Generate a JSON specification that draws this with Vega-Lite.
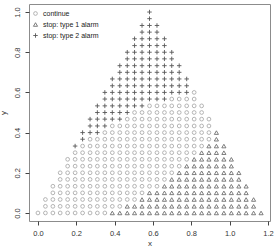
{
  "$schema": "https://vega.github.io/schema/vega-lite/v6.json",
  "width": 241,
  "height": 217,
  "autosize": {"type": "none"},
  "padding": {"left": 29, "top": 4, "right": 4, "bottom": 29},
  "config": {
    "font": "Liberation Sans",
    "view": {"stroke": "#8c8c8c", "strokeWidth": 1},
    "axis": {"grid": false, "domain": false, "tickColor": "#444", "tickSize": 4, "labelFontSize": 7.5, "labelColor": "#333", "titleFontSize": 8, "titleFontWeight": "normal", "titleColor": "#333"},
    "legend": {"symbolStrokeWidth": 0.9, "symbolFillColor": "transparent"}
  },
  "data": {"values": [
    {"x":0,"y":0,"s":"c"},{"x":0.039,"y":0,"s":"c"},{"x":0.078,"y":0,"s":"c"},{"x":0.116,"y":0,"s":"c"},{"x":0.155,"y":0,"s":"c"},{"x":0.194,"y":0,"s":"c"},{"x":0.233,"y":0,"s":"c"},{"x":0.272,"y":0,"s":"c"},{"x":0.31,"y":0,"s":"c"},{"x":0.349,"y":0,"s":"c"},
    {"x":0.388,"y":0,"s":"t1"},{"x":0.427,"y":0,"s":"t1"},{"x":0.466,"y":0,"s":"t1"},{"x":0.504,"y":0,"s":"t1"},{"x":0.543,"y":0,"s":"t1"},{"x":0.582,"y":0,"s":"t1"},{"x":0.621,"y":0,"s":"t1"},{"x":0.66,"y":0,"s":"t1"},{"x":0.698,"y":0,"s":"t1"},{"x":0.737,"y":0,"s":"t1"},{"x":0.776,"y":0,"s":"t1"},{"x":0.815,"y":0,"s":"t1"},{"x":0.854,"y":0,"s":"t1"},{"x":0.892,"y":0,"s":"t1"},{"x":0.931,"y":0,"s":"t1"},{"x":0.97,"y":0,"s":"t1"},{"x":1.009,"y":0,"s":"t1"},{"x":1.048,"y":0,"s":"t1"},{"x":1.086,"y":0,"s":"t1"},{"x":1.125,"y":0,"s":"t1"},{"x":1.164,"y":0,"s":"t1"},

    {"x":0.039,"y":0.033,"s":"c"},{"x":0.078,"y":0.033,"s":"c"},{"x":0.116,"y":0.033,"s":"c"},{"x":0.155,"y":0.033,"s":"c"},{"x":0.194,"y":0.033,"s":"c"},{"x":0.233,"y":0.033,"s":"c"},{"x":0.272,"y":0.033,"s":"c"},{"x":0.31,"y":0.033,"s":"c"},{"x":0.349,"y":0.033,"s":"c"},{"x":0.388,"y":0.033,"s":"c"},{"x":0.427,"y":0.033,"s":"c"},
    {"x":0.466,"y":0.033,"s":"t1"},{"x":0.504,"y":0.033,"s":"t1"},{"x":0.543,"y":0.033,"s":"t1"},{"x":0.582,"y":0.033,"s":"t1"},{"x":0.621,"y":0.033,"s":"t1"},{"x":0.66,"y":0.033,"s":"t1"},{"x":0.698,"y":0.033,"s":"t1"},{"x":0.737,"y":0.033,"s":"t1"},{"x":0.776,"y":0.033,"s":"t1"},{"x":0.815,"y":0.033,"s":"t1"},{"x":0.854,"y":0.033,"s":"t1"},{"x":0.892,"y":0.033,"s":"t1"},{"x":0.931,"y":0.033,"s":"t1"},{"x":0.97,"y":0.033,"s":"t1"},{"x":1.009,"y":0.033,"s":"t1"},{"x":1.048,"y":0.033,"s":"t1"},{"x":1.086,"y":0.033,"s":"t1"},{"x":1.125,"y":0.033,"s":"t1"},

    {"x":0.039,"y":0.067,"s":"c"},{"x":0.078,"y":0.067,"s":"c"},{"x":0.116,"y":0.067,"s":"c"},{"x":0.155,"y":0.067,"s":"c"},{"x":0.194,"y":0.067,"s":"c"},{"x":0.233,"y":0.067,"s":"c"},{"x":0.272,"y":0.067,"s":"c"},{"x":0.31,"y":0.067,"s":"c"},{"x":0.349,"y":0.067,"s":"c"},{"x":0.388,"y":0.067,"s":"c"},{"x":0.427,"y":0.067,"s":"c"},{"x":0.466,"y":0.067,"s":"c"},{"x":0.504,"y":0.067,"s":"c"},
    {"x":0.543,"y":0.067,"s":"t1"},{"x":0.582,"y":0.067,"s":"t1"},{"x":0.621,"y":0.067,"s":"t1"},{"x":0.66,"y":0.067,"s":"t1"},{"x":0.698,"y":0.067,"s":"t1"},{"x":0.737,"y":0.067,"s":"t1"},{"x":0.776,"y":0.067,"s":"t1"},{"x":0.815,"y":0.067,"s":"t1"},{"x":0.854,"y":0.067,"s":"t1"},{"x":0.892,"y":0.067,"s":"t1"},{"x":0.931,"y":0.067,"s":"t1"},{"x":0.97,"y":0.067,"s":"t1"},{"x":1.009,"y":0.067,"s":"t1"},{"x":1.048,"y":0.067,"s":"t1"},{"x":1.086,"y":0.067,"s":"t1"},{"x":1.125,"y":0.067,"s":"t1"},

    {"x":0.078,"y":0.1,"s":"c"},{"x":0.116,"y":0.1,"s":"c"},{"x":0.155,"y":0.1,"s":"c"},{"x":0.194,"y":0.1,"s":"c"},{"x":0.233,"y":0.1,"s":"c"},{"x":0.272,"y":0.1,"s":"c"},{"x":0.31,"y":0.1,"s":"c"},{"x":0.349,"y":0.1,"s":"c"},{"x":0.388,"y":0.1,"s":"c"},{"x":0.427,"y":0.1,"s":"c"},{"x":0.466,"y":0.1,"s":"c"},{"x":0.504,"y":0.1,"s":"c"},{"x":0.543,"y":0.1,"s":"c"},
    {"x":0.582,"y":0.1,"s":"t1"},{"x":0.621,"y":0.1,"s":"t1"},{"x":0.66,"y":0.1,"s":"t1"},{"x":0.698,"y":0.1,"s":"t1"},{"x":0.737,"y":0.1,"s":"t1"},{"x":0.776,"y":0.1,"s":"t1"},{"x":0.815,"y":0.1,"s":"t1"},{"x":0.854,"y":0.1,"s":"t1"},{"x":0.892,"y":0.1,"s":"t1"},{"x":0.931,"y":0.1,"s":"t1"},{"x":0.97,"y":0.1,"s":"t1"},{"x":1.009,"y":0.1,"s":"t1"},{"x":1.048,"y":0.1,"s":"t1"},{"x":1.086,"y":0.1,"s":"t1"},

    {"x":0.078,"y":0.133,"s":"c"},{"x":0.116,"y":0.133,"s":"c"},{"x":0.155,"y":0.133,"s":"c"},{"x":0.194,"y":0.133,"s":"c"},{"x":0.233,"y":0.133,"s":"c"},{"x":0.272,"y":0.133,"s":"c"},{"x":0.31,"y":0.133,"s":"c"},{"x":0.349,"y":0.133,"s":"c"},{"x":0.388,"y":0.133,"s":"c"},{"x":0.427,"y":0.133,"s":"c"},{"x":0.466,"y":0.133,"s":"c"},{"x":0.504,"y":0.133,"s":"c"},{"x":0.543,"y":0.133,"s":"c"},{"x":0.582,"y":0.133,"s":"c"},{"x":0.621,"y":0.133,"s":"c"},
    {"x":0.66,"y":0.133,"s":"t1"},{"x":0.698,"y":0.133,"s":"t1"},{"x":0.737,"y":0.133,"s":"t1"},{"x":0.776,"y":0.133,"s":"t1"},{"x":0.815,"y":0.133,"s":"t1"},{"x":0.854,"y":0.133,"s":"t1"},{"x":0.892,"y":0.133,"s":"t1"},{"x":0.931,"y":0.133,"s":"t1"},{"x":0.97,"y":0.133,"s":"t1"},{"x":1.009,"y":0.133,"s":"t1"},{"x":1.048,"y":0.133,"s":"t1"},{"x":1.086,"y":0.133,"s":"t1"},

    {"x":0.116,"y":0.167,"s":"c"},{"x":0.155,"y":0.167,"s":"c"},{"x":0.194,"y":0.167,"s":"c"},{"x":0.233,"y":0.167,"s":"c"},{"x":0.272,"y":0.167,"s":"c"},{"x":0.31,"y":0.167,"s":"c"},{"x":0.349,"y":0.167,"s":"c"},{"x":0.388,"y":0.167,"s":"c"},{"x":0.427,"y":0.167,"s":"c"},{"x":0.466,"y":0.167,"s":"c"},{"x":0.504,"y":0.167,"s":"c"},{"x":0.543,"y":0.167,"s":"c"},{"x":0.582,"y":0.167,"s":"c"},{"x":0.621,"y":0.167,"s":"c"},{"x":0.66,"y":0.167,"s":"c"},
    {"x":0.698,"y":0.167,"s":"t1"},{"x":0.737,"y":0.167,"s":"t1"},{"x":0.776,"y":0.167,"s":"t1"},{"x":0.815,"y":0.167,"s":"t1"},{"x":0.854,"y":0.167,"s":"t1"},{"x":0.892,"y":0.167,"s":"t1"},{"x":0.931,"y":0.167,"s":"t1"},{"x":0.97,"y":0.167,"s":"t1"},{"x":1.009,"y":0.167,"s":"t1"},{"x":1.048,"y":0.167,"s":"t1"},

    {"x":0.116,"y":0.2,"s":"c"},{"x":0.155,"y":0.2,"s":"c"},{"x":0.194,"y":0.2,"s":"c"},{"x":0.233,"y":0.2,"s":"c"},{"x":0.272,"y":0.2,"s":"c"},{"x":0.31,"y":0.2,"s":"c"},{"x":0.349,"y":0.2,"s":"c"},{"x":0.388,"y":0.2,"s":"c"},{"x":0.427,"y":0.2,"s":"c"},{"x":0.466,"y":0.2,"s":"c"},{"x":0.504,"y":0.2,"s":"c"},{"x":0.543,"y":0.2,"s":"c"},{"x":0.582,"y":0.2,"s":"c"},{"x":0.621,"y":0.2,"s":"c"},{"x":0.66,"y":0.2,"s":"c"},{"x":0.698,"y":0.2,"s":"c"},
    {"x":0.737,"y":0.2,"s":"t1"},{"x":0.776,"y":0.2,"s":"t1"},{"x":0.815,"y":0.2,"s":"t1"},{"x":0.854,"y":0.2,"s":"t1"},{"x":0.892,"y":0.2,"s":"t1"},{"x":0.931,"y":0.2,"s":"t1"},{"x":0.97,"y":0.2,"s":"t1"},{"x":1.009,"y":0.2,"s":"t1"},{"x":1.048,"y":0.2,"s":"t1"},

    {"x":0.155,"y":0.233,"s":"c"},{"x":0.194,"y":0.233,"s":"c"},{"x":0.233,"y":0.233,"s":"c"},{"x":0.272,"y":0.233,"s":"c"},{"x":0.31,"y":0.233,"s":"c"},{"x":0.349,"y":0.233,"s":"c"},{"x":0.388,"y":0.233,"s":"c"},{"x":0.427,"y":0.233,"s":"c"},{"x":0.466,"y":0.233,"s":"c"},{"x":0.504,"y":0.233,"s":"c"},{"x":0.543,"y":0.233,"s":"c"},{"x":0.582,"y":0.233,"s":"c"},{"x":0.621,"y":0.233,"s":"c"},{"x":0.66,"y":0.233,"s":"c"},{"x":0.698,"y":0.233,"s":"c"},{"x":0.737,"y":0.233,"s":"c"},
    {"x":0.776,"y":0.233,"s":"t1"},{"x":0.815,"y":0.233,"s":"t1"},{"x":0.854,"y":0.233,"s":"t1"},{"x":0.892,"y":0.233,"s":"t1"},{"x":0.931,"y":0.233,"s":"t1"},{"x":0.97,"y":0.233,"s":"t1"},{"x":1.009,"y":0.233,"s":"t1"},

    {"x":0.155,"y":0.267,"s":"c"},{"x":0.194,"y":0.267,"s":"c"},{"x":0.233,"y":0.267,"s":"c"},{"x":0.272,"y":0.267,"s":"c"},{"x":0.31,"y":0.267,"s":"c"},{"x":0.349,"y":0.267,"s":"c"},{"x":0.388,"y":0.267,"s":"c"},{"x":0.427,"y":0.267,"s":"c"},{"x":0.466,"y":0.267,"s":"c"},{"x":0.504,"y":0.267,"s":"c"},{"x":0.543,"y":0.267,"s":"c"},{"x":0.582,"y":0.267,"s":"c"},{"x":0.621,"y":0.267,"s":"c"},{"x":0.66,"y":0.267,"s":"c"},{"x":0.698,"y":0.267,"s":"c"},{"x":0.737,"y":0.267,"s":"c"},{"x":0.776,"y":0.267,"s":"c"},
    {"x":0.815,"y":0.267,"s":"t1"},{"x":0.854,"y":0.267,"s":"t1"},{"x":0.892,"y":0.267,"s":"t1"},{"x":0.931,"y":0.267,"s":"t1"},{"x":0.97,"y":0.267,"s":"t1"},{"x":1.009,"y":0.267,"s":"t1"},

    {"x":0.194,"y":0.3,"s":"c"},{"x":0.233,"y":0.3,"s":"c"},{"x":0.272,"y":0.3,"s":"c"},{"x":0.31,"y":0.3,"s":"c"},{"x":0.349,"y":0.3,"s":"c"},{"x":0.388,"y":0.3,"s":"c"},{"x":0.427,"y":0.3,"s":"c"},{"x":0.466,"y":0.3,"s":"c"},{"x":0.504,"y":0.3,"s":"c"},{"x":0.543,"y":0.3,"s":"c"},{"x":0.582,"y":0.3,"s":"c"},{"x":0.621,"y":0.3,"s":"c"},{"x":0.66,"y":0.3,"s":"c"},{"x":0.698,"y":0.3,"s":"c"},{"x":0.737,"y":0.3,"s":"c"},{"x":0.776,"y":0.3,"s":"c"},{"x":0.815,"y":0.3,"s":"c"},
    {"x":0.854,"y":0.3,"s":"t1"},{"x":0.892,"y":0.3,"s":"t1"},{"x":0.931,"y":0.3,"s":"t1"},{"x":0.97,"y":0.3,"s":"t1"},

    {"x":0.194,"y":0.333,"s":"t2"},
    {"x":0.233,"y":0.333,"s":"c"},{"x":0.272,"y":0.333,"s":"c"},{"x":0.31,"y":0.333,"s":"c"},{"x":0.349,"y":0.333,"s":"c"},{"x":0.388,"y":0.333,"s":"c"},{"x":0.427,"y":0.333,"s":"c"},{"x":0.466,"y":0.333,"s":"c"},{"x":0.504,"y":0.333,"s":"c"},{"x":0.543,"y":0.333,"s":"c"},{"x":0.582,"y":0.333,"s":"c"},{"x":0.621,"y":0.333,"s":"c"},{"x":0.66,"y":0.333,"s":"c"},{"x":0.698,"y":0.333,"s":"c"},{"x":0.737,"y":0.333,"s":"c"},{"x":0.776,"y":0.333,"s":"c"},{"x":0.815,"y":0.333,"s":"c"},{"x":0.854,"y":0.333,"s":"c"},
    {"x":0.892,"y":0.333,"s":"t1"},{"x":0.931,"y":0.333,"s":"t1"},{"x":0.97,"y":0.333,"s":"t1"},

    {"x":0.233,"y":0.367,"s":"t2"},
    {"x":0.272,"y":0.367,"s":"c"},{"x":0.31,"y":0.367,"s":"c"},{"x":0.349,"y":0.367,"s":"c"},{"x":0.388,"y":0.367,"s":"c"},{"x":0.427,"y":0.367,"s":"c"},{"x":0.466,"y":0.367,"s":"c"},{"x":0.504,"y":0.367,"s":"c"},{"x":0.543,"y":0.367,"s":"c"},{"x":0.582,"y":0.367,"s":"c"},{"x":0.621,"y":0.367,"s":"c"},{"x":0.66,"y":0.367,"s":"c"},{"x":0.698,"y":0.367,"s":"c"},{"x":0.737,"y":0.367,"s":"c"},{"x":0.776,"y":0.367,"s":"c"},{"x":0.815,"y":0.367,"s":"c"},{"x":0.854,"y":0.367,"s":"c"},{"x":0.892,"y":0.367,"s":"c"},
    {"x":0.931,"y":0.367,"s":"t1"},

    {"x":0.233,"y":0.4,"s":"t2"},{"x":0.272,"y":0.4,"s":"t2"},{"x":0.31,"y":0.4,"s":"t2"},
    {"x":0.349,"y":0.4,"s":"c"},{"x":0.388,"y":0.4,"s":"c"},{"x":0.427,"y":0.4,"s":"c"},{"x":0.466,"y":0.4,"s":"c"},{"x":0.504,"y":0.4,"s":"c"},{"x":0.543,"y":0.4,"s":"c"},{"x":0.582,"y":0.4,"s":"c"},{"x":0.621,"y":0.4,"s":"c"},{"x":0.66,"y":0.4,"s":"c"},{"x":0.698,"y":0.4,"s":"c"},{"x":0.737,"y":0.4,"s":"c"},{"x":0.776,"y":0.4,"s":"c"},{"x":0.815,"y":0.4,"s":"c"},{"x":0.854,"y":0.4,"s":"c"},{"x":0.892,"y":0.4,"s":"c"},
    {"x":0.931,"y":0.4,"s":"t1"},

    {"x":0.272,"y":0.433,"s":"t2"},{"x":0.31,"y":0.433,"s":"t2"},{"x":0.349,"y":0.433,"s":"t2"},
    {"x":0.388,"y":0.433,"s":"c"},{"x":0.427,"y":0.433,"s":"c"},{"x":0.466,"y":0.433,"s":"c"},{"x":0.504,"y":0.433,"s":"c"},{"x":0.543,"y":0.433,"s":"c"},{"x":0.582,"y":0.433,"s":"c"},{"x":0.621,"y":0.433,"s":"c"},{"x":0.66,"y":0.433,"s":"c"},{"x":0.698,"y":0.433,"s":"c"},{"x":0.737,"y":0.433,"s":"c"},{"x":0.776,"y":0.433,"s":"c"},{"x":0.815,"y":0.433,"s":"c"},{"x":0.854,"y":0.433,"s":"c"},{"x":0.892,"y":0.433,"s":"c"},

    {"x":0.272,"y":0.467,"s":"t2"},{"x":0.31,"y":0.467,"s":"t2"},{"x":0.349,"y":0.467,"s":"t2"},{"x":0.388,"y":0.467,"s":"t2"},{"x":0.427,"y":0.467,"s":"t2"},
    {"x":0.466,"y":0.467,"s":"c"},{"x":0.504,"y":0.467,"s":"c"},{"x":0.543,"y":0.467,"s":"c"},{"x":0.582,"y":0.467,"s":"c"},{"x":0.621,"y":0.467,"s":"c"},{"x":0.66,"y":0.467,"s":"c"},{"x":0.698,"y":0.467,"s":"c"},{"x":0.737,"y":0.467,"s":"c"},{"x":0.776,"y":0.467,"s":"c"},{"x":0.815,"y":0.467,"s":"c"},{"x":0.854,"y":0.467,"s":"c"},{"x":0.892,"y":0.467,"s":"c"},

    {"x":0.31,"y":0.5,"s":"t2"},{"x":0.349,"y":0.5,"s":"t2"},{"x":0.388,"y":0.5,"s":"t2"},{"x":0.427,"y":0.5,"s":"t2"},{"x":0.466,"y":0.5,"s":"t2"},
    {"x":0.504,"y":0.5,"s":"c"},{"x":0.543,"y":0.5,"s":"c"},{"x":0.582,"y":0.5,"s":"c"},{"x":0.621,"y":0.5,"s":"c"},{"x":0.66,"y":0.5,"s":"c"},{"x":0.698,"y":0.5,"s":"c"},{"x":0.737,"y":0.5,"s":"c"},{"x":0.776,"y":0.5,"s":"c"},{"x":0.815,"y":0.5,"s":"c"},{"x":0.854,"y":0.5,"s":"c"},

    {"x":0.31,"y":0.533,"s":"t2"},{"x":0.349,"y":0.533,"s":"t2"},{"x":0.388,"y":0.533,"s":"t2"},{"x":0.427,"y":0.533,"s":"t2"},{"x":0.466,"y":0.533,"s":"t2"},{"x":0.504,"y":0.533,"s":"t2"},{"x":0.543,"y":0.533,"s":"t2"},
    {"x":0.582,"y":0.533,"s":"c"},{"x":0.621,"y":0.533,"s":"c"},{"x":0.66,"y":0.533,"s":"c"},{"x":0.698,"y":0.533,"s":"c"},{"x":0.737,"y":0.533,"s":"c"},{"x":0.776,"y":0.533,"s":"c"},{"x":0.815,"y":0.533,"s":"c"},{"x":0.854,"y":0.533,"s":"c"},

    {"x":0.349,"y":0.567,"s":"t2"},{"x":0.388,"y":0.567,"s":"t2"},{"x":0.427,"y":0.567,"s":"t2"},{"x":0.466,"y":0.567,"s":"t2"},{"x":0.504,"y":0.567,"s":"t2"},{"x":0.543,"y":0.567,"s":"t2"},{"x":0.582,"y":0.567,"s":"t2"},{"x":0.621,"y":0.567,"s":"t2"},{"x":0.66,"y":0.567,"s":"t2"},
    {"x":0.698,"y":0.567,"s":"c"},{"x":0.737,"y":0.567,"s":"c"},{"x":0.776,"y":0.567,"s":"c"},{"x":0.815,"y":0.567,"s":"c"},

    {"x":0.349,"y":0.6,"s":"t2"},{"x":0.388,"y":0.6,"s":"t2"},{"x":0.427,"y":0.6,"s":"t2"},{"x":0.466,"y":0.6,"s":"t2"},{"x":0.504,"y":0.6,"s":"t2"},{"x":0.543,"y":0.6,"s":"t2"},{"x":0.582,"y":0.6,"s":"t2"},{"x":0.621,"y":0.6,"s":"t2"},{"x":0.66,"y":0.6,"s":"t2"},{"x":0.698,"y":0.6,"s":"t2"},{"x":0.737,"y":0.6,"s":"t2"},{"x":0.776,"y":0.6,"s":"t2"},
    {"x":0.815,"y":0.6,"s":"c"},

    {"x":0.388,"y":0.633,"s":"t2"},{"x":0.427,"y":0.633,"s":"t2"},{"x":0.466,"y":0.633,"s":"t2"},{"x":0.504,"y":0.633,"s":"t2"},{"x":0.543,"y":0.633,"s":"t2"},{"x":0.582,"y":0.633,"s":"t2"},{"x":0.621,"y":0.633,"s":"t2"},{"x":0.66,"y":0.633,"s":"t2"},{"x":0.698,"y":0.633,"s":"t2"},{"x":0.737,"y":0.633,"s":"t2"},{"x":0.776,"y":0.633,"s":"t2"},

    {"x":0.388,"y":0.667,"s":"t2"},{"x":0.427,"y":0.667,"s":"t2"},{"x":0.466,"y":0.667,"s":"t2"},{"x":0.504,"y":0.667,"s":"t2"},{"x":0.543,"y":0.667,"s":"t2"},{"x":0.582,"y":0.667,"s":"t2"},{"x":0.621,"y":0.667,"s":"t2"},{"x":0.66,"y":0.667,"s":"t2"},{"x":0.698,"y":0.667,"s":"t2"},{"x":0.737,"y":0.667,"s":"t2"},{"x":0.776,"y":0.667,"s":"t2"},

    {"x":0.427,"y":0.7,"s":"t2"},{"x":0.466,"y":0.7,"s":"t2"},{"x":0.504,"y":0.7,"s":"t2"},{"x":0.543,"y":0.7,"s":"t2"},{"x":0.582,"y":0.7,"s":"t2"},{"x":0.621,"y":0.7,"s":"t2"},{"x":0.66,"y":0.7,"s":"t2"},{"x":0.698,"y":0.7,"s":"t2"},{"x":0.737,"y":0.7,"s":"t2"},

    {"x":0.427,"y":0.733,"s":"t2"},{"x":0.466,"y":0.733,"s":"t2"},{"x":0.504,"y":0.733,"s":"t2"},{"x":0.543,"y":0.733,"s":"t2"},{"x":0.582,"y":0.733,"s":"t2"},{"x":0.621,"y":0.733,"s":"t2"},{"x":0.66,"y":0.733,"s":"t2"},{"x":0.698,"y":0.733,"s":"t2"},{"x":0.737,"y":0.733,"s":"t2"},

    {"x":0.466,"y":0.767,"s":"t2"},{"x":0.504,"y":0.767,"s":"t2"},{"x":0.543,"y":0.767,"s":"t2"},{"x":0.582,"y":0.767,"s":"t2"},{"x":0.621,"y":0.767,"s":"t2"},{"x":0.66,"y":0.767,"s":"t2"},{"x":0.698,"y":0.767,"s":"t2"},

    {"x":0.466,"y":0.8,"s":"t2"},{"x":0.504,"y":0.8,"s":"t2"},{"x":0.543,"y":0.8,"s":"t2"},{"x":0.582,"y":0.8,"s":"t2"},{"x":0.621,"y":0.8,"s":"t2"},{"x":0.66,"y":0.8,"s":"t2"},{"x":0.698,"y":0.8,"s":"t2"},

    {"x":0.504,"y":0.833,"s":"t2"},{"x":0.543,"y":0.833,"s":"t2"},{"x":0.582,"y":0.833,"s":"t2"},{"x":0.621,"y":0.833,"s":"t2"},{"x":0.66,"y":0.833,"s":"t2"},

    {"x":0.504,"y":0.867,"s":"t2"},{"x":0.543,"y":0.867,"s":"t2"},{"x":0.582,"y":0.867,"s":"t2"},{"x":0.621,"y":0.867,"s":"t2"},{"x":0.66,"y":0.867,"s":"t2"},

    {"x":0.543,"y":0.9,"s":"t2"},{"x":0.582,"y":0.9,"s":"t2"},{"x":0.621,"y":0.9,"s":"t2"},
    {"x":0.543,"y":0.933,"s":"t2"},{"x":0.582,"y":0.933,"s":"t2"},{"x":0.621,"y":0.933,"s":"t2"},
    {"x":0.582,"y":0.967,"s":"t2"},
    {"x":0.582,"y":1,"s":"t2"}
  ]},
  "mark": {"type": "point", "filled": false, "strokeWidth": 0.9},
  "encoding": {
    "x": {
      "field": "x", "type": "quantitative",
      "scale": {"domain": [-0.0466, 1.2106], "nice": false, "zero": false},
      "axis": {"values": [0, 0.2, 0.4, 0.6, 0.8, 1, 1.2], "format": ".1f", "labelPadding": 4, "title": "x", "titlePadding": 3}
    },
    "y": {
      "field": "y", "type": "quantitative",
      "scale": {"domain": [-0.04, 1.04], "nice": false, "zero": false},
      "axis": {"values": [0, 0.2, 0.4, 0.6, 0.8, 1], "format": ".1f", "labelAngle": -90, "labelAlign": "center", "labelBaseline": "bottom", "labelPadding": 4, "title": "y", "titlePadding": 6}
    },
    "shape": {
      "field": "s", "type": "nominal",
      "scale": {"domain": ["c", "t1", "t2"], "range": ["circle", "triangle-up", "M-1,0L1,0M0,-1L0,1"]},
      "legend": {"title": null, "orient": "none", "legendX": 3, "legendY": 6, "padding": 0, "rowPadding": 2, "labelFontSize": 7, "labelColor": "#222", "labelOffset": 4, "labelExpr": "datum.value == 'c' ? 'continue' : datum.value == 't1' ? 'stop: type 1 alarm' : 'stop: type 2 alarm'"}
    },
    "color": {
      "field": "s", "type": "nominal",
      "scale": {"domain": ["c", "t1", "t2"], "range": ["#8a8a8a", "#333333", "#111111"]},
      "legend": {"title": null, "orient": "none", "legendX": 3, "legendY": 6, "padding": 0, "rowPadding": 2, "labelFontSize": 7, "labelColor": "#222", "labelOffset": 4, "labelExpr": "datum.value == 'c' ? 'continue' : datum.value == 't1' ? 'stop: type 1 alarm' : 'stop: type 2 alarm'"}
    },
    "size": {
      "field": "s", "type": "nominal",
      "scale": {"domain": ["c", "t1", "t2"], "range": [14, 20, 34]},
      "legend": {"title": null, "orient": "none", "legendX": 3, "legendY": 6, "padding": 0, "rowPadding": 2, "labelFontSize": 7, "labelColor": "#222", "labelOffset": 4, "labelExpr": "datum.value == 'c' ? 'continue' : datum.value == 't1' ? 'stop: type 1 alarm' : 'stop: type 2 alarm'"}
    }
  }
}
